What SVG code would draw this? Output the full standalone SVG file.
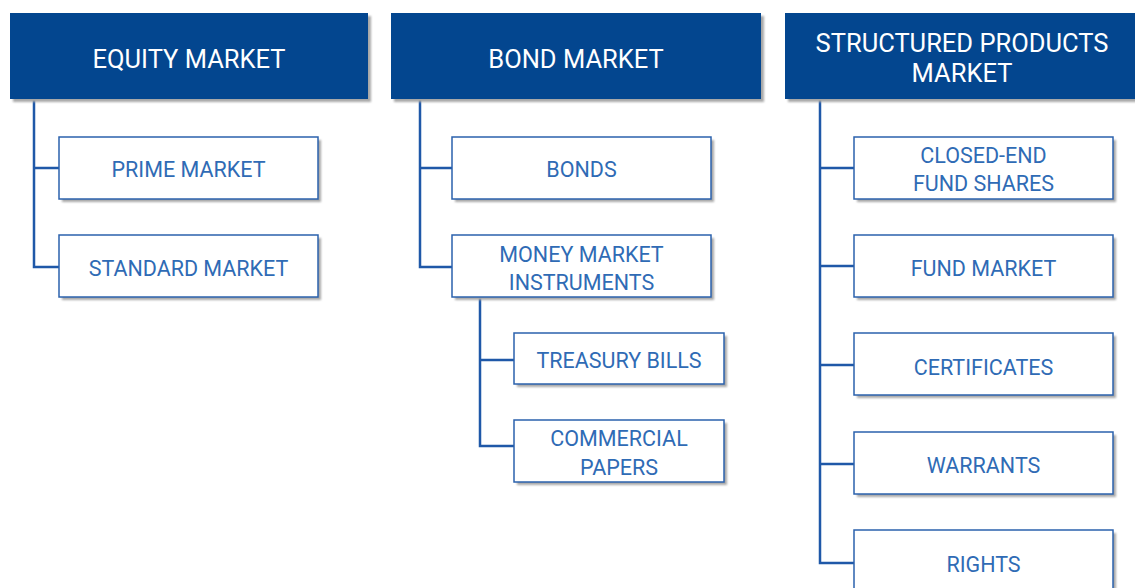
<svg xmlns="http://www.w3.org/2000/svg" width="1135" height="588" viewBox="0 0 1135 588">
<defs>
<filter id="sh" x="-5%" y="-5%" width="115%" height="130%">
<feGaussianBlur stdDeviation="1"/>
</filter>
</defs>
<style>
.hd{fill:#03468f}
.shd{fill:#a8a8a8;filter:url(#sh)}
.bx{fill:#fff;stroke:#2b62ad;stroke-width:1.5}
.ht{font-family:Roboto,"Liberation Sans",sans-serif;font-size:25.5px;fill:#fff;text-anchor:middle}
.ct{font-family:Roboto,"Liberation Sans",sans-serif;font-size:21.5px;fill:#2f6bb5;text-anchor:middle}
.cn{fill:none;stroke:#1f58a8;stroke-width:2.5}
</style>
<rect width="1135" height="588" fill="#fff"/>
<g id="connectors">
<path class="cn" d="M34 99V267H59M34 168H59"/>
<path class="cn" d="M420 99V267H452M420 168H452"/>
<path class="cn" d="M480 298V446H514M480 360H514"/>
<path class="cn" d="M820 99V563H854M820 168H854M820 266H854M820 365H854M820 464H854"/>
</g>
<g id="equity-market">
<rect class="shd" x="13" y="16" width="358" height="86"/>
<rect class="hd" x="10" y="13" width="358" height="86"/>
<text class="ht" x="189" y="68">EQUITY MARKET</text>
</g>
<g id="bond-market">
<rect class="shd" x="394" y="16" width="370" height="86"/>
<rect class="hd" x="391" y="13" width="370" height="86"/>
<text class="ht" x="576" y="68">BOND MARKET</text>
</g>
<g id="structured-products-market">
<rect class="shd" x="788" y="16" width="360" height="86"/>
<rect class="hd" x="785" y="13" width="360" height="86"/>
<text class="ht" x="962" y="52">STRUCTURED PRODUCTS</text>
<text class="ht" x="962" y="82">MARKET</text>
</g>
<g id="prime-market">
<rect class="shd" x="62" y="140" width="259" height="62"/>
<rect class="bx" x="59" y="137" width="259" height="62"/>
<text class="ct" x="188.5" y="177">PRIME MARKET</text>
</g>
<g id="standard-market">
<rect class="shd" x="62" y="238" width="259" height="62"/>
<rect class="bx" x="59" y="235" width="259" height="62"/>
<text class="ct" x="188.5" y="276">STANDARD MARKET</text>
</g>
<g id="bonds">
<rect class="shd" x="455" y="140" width="259" height="62"/>
<rect class="bx" x="452" y="137" width="259" height="62"/>
<text class="ct" x="581.5" y="177">BONDS</text>
</g>
<g id="money-market-instruments">
<rect class="shd" x="455" y="238" width="259" height="62"/>
<rect class="bx" x="452" y="235" width="259" height="62"/>
<text class="ct" x="581.5" y="262">MONEY MARKET</text>
<text class="ct" x="581.5" y="290">INSTRUMENTS</text>
</g>
<g id="treasury-bills">
<rect class="shd" x="517" y="336" width="210" height="51"/>
<rect class="bx" x="514" y="333" width="210" height="51"/>
<text class="ct" x="619" y="368">TREASURY BILLS</text>
</g>
<g id="commercial-papers">
<rect class="shd" x="517" y="423" width="210" height="62"/>
<rect class="bx" x="514" y="420" width="210" height="62"/>
<text class="ct" x="619" y="446">COMMERCIAL</text>
<text class="ct" x="619" y="475">PAPERS</text>
</g>
<g id="closed-end-fund-shares">
<rect class="shd" x="857" y="140" width="259" height="62"/>
<rect class="bx" x="854" y="137" width="259" height="62"/>
<text class="ct" x="983.5" y="163">CLOSED-END</text>
<text class="ct" x="983.5" y="191">FUND SHARES</text>
</g>
<g id="fund-market">
<rect class="shd" x="857" y="238" width="259" height="62"/>
<rect class="bx" x="854" y="235" width="259" height="62"/>
<text class="ct" x="983.5" y="276">FUND MARKET</text>
</g>
<g id="certificates">
<rect class="shd" x="857" y="336" width="259" height="62"/>
<rect class="bx" x="854" y="333" width="259" height="62"/>
<text class="ct" x="983.5" y="375">CERTIFICATES</text>
</g>
<g id="warrants">
<rect class="shd" x="857" y="435" width="259" height="62"/>
<rect class="bx" x="854" y="432" width="259" height="62"/>
<text class="ct" x="983.5" y="473">WARRANTS</text>
</g>
<g id="rights">
<rect class="shd" x="857" y="533" width="259" height="62"/>
<rect class="bx" x="854" y="530" width="259" height="62"/>
<text class="ct" x="983.5" y="572">RIGHTS</text>
</g>
</svg>
